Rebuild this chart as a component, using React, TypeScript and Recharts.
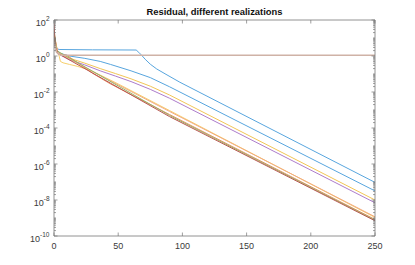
import React from 'react';
import { LineChart, Line, XAxis, YAxis } from 'recharts';

const FONT = '"Liberation Sans", Arial, Helvetica, sans-serif';
const AXIS = '#767676';
const LABEL = '#3a3a3a';

const titleText = 'Residual, different realizations';
const xTicks = [0, 50, 100, 150, 200, 250];
const yDomain = [1e-10, 1e2];

// series (x, residual)
const blue1X = [0, 1, 2, 4, 30, 64, 66, 68, 71, 75, 80, 88, 98, 250];
const blue1Y = [12, 4.5, 2.6, 2.3, 2.2, 2.15, 1.6, 1.15, 0.66, 0.35, 0.19, 0.089, 0.035, 9.5e-8];

const blue2X = [0, 2, 5, 12, 24, 36, 44, 60, 75, 90, 250];
const blue2Y = [16, 2.2, 1.4, 1.0, 0.74, 0.5, 0.34, 0.15, 0.063, 0.0195, 3.2e-8];

const goldX = [0, 3, 5, 12, 24, 36, 48, 60, 75, 90, 250];
const goldY = [8, 1.6, 1.25, 0.76, 0.4, 0.2, 0.105, 0.054, 0.021, 0.0068, 1e-8];

const purpleX = [0, 3, 5, 12, 24, 36, 48, 60, 75, 90, 250];
const purpleY = [10, 1.4, 1.12, 0.63, 0.32, 0.15, 0.076, 0.038, 0.014, 0.0045, 7e-9];

const lightYellowX = [0, 2, 4, 5, 7, 12, 18, 25, 32, 40, 50, 90, 250];
const lightYellowY = [10, 2, 1, 0.5, 0.42, 0.34, 0.27, 0.19, 0.12, 0.063, 0.028, 9.3e-4, 1.07e-9];

const orangeAX = [0, 3, 10, 20, 30, 44, 90, 250];
const orangeAY = [20, 1.3, 1.1, 0.35, 0.11, 0.028, 5.6e-4, 8.3e-10];

const orangeBX = [0, 3, 12, 30, 50, 90, 250];
const orangeBY = [15, 1.6, 0.7, 0.14, 0.025, 8.3e-4, 1.17e-9];

const greenX = [0, 2, 90, 250];
const greenY = [30, 2, 5e-4, 7.6e-10];

const darkRedX = [0, 1, 3, 90, 250];
const darkRedY = [65, 3.2, 1.4, 4.3e-4, 7e-10];

const tanX = [0, 2, 5, 250];
const tanY = [6, 1.6, 1.1, 1.1];

const build = (xs: number[], ys: number[]) => xs.map((x, i) => ({ x, y: ys[i] }));

const series = [
  { name: 'r1', data: build(blue1X, blue1Y), color: '#57a5de', w: 1 },
  { name: 'r2', data: build(blue2X, blue2Y), color: '#57a5de', w: 1 },
  { name: 'r3', data: build(goldX, goldY), color: '#f2c556', w: 1 },
  { name: 'r4', data: build(purpleX, purpleY), color: '#ad7ccb', w: 1 },
  { name: 'r5', data: build(lightYellowX, lightYellowY), color: '#f7d06c', w: 1 },
  { name: 'r6', data: build(orangeAX, orangeAY), color: '#e98b5e', w: 1 },
  { name: 'r7', data: build(orangeBX, orangeBY), color: '#f2aa80', w: 1 },
  { name: 'r8', data: build(greenX, greenY), color: '#98b566', w: 1 },
  { name: 'r9', data: build(darkRedX, darkRedY), color: '#b85650', w: 1 },
  { name: 'r10', data: build(tanX, tanY), color: '#cfb2a6', w: 1.6 },
];

const yTicks: number[] = [];
for (let e = -10; e < 2; e++) {
  for (let m = 1; m < 10; m++) yTicks.push(Number((m * Math.pow(10, e)).toPrecision(6)));
}
yTicks.push(100);

const majorExp = (v: number): number | null => {
  const l = Math.log10(v);
  const r = Math.round(l);
  if (Math.abs(l - r) < 1e-6 && r % 2 === 0) return r;
  return null;
};

const LeftTick = (props: any) => {
  const { x, y, payload } = props;
  const r = majorExp(payload.value);
  const len = r !== null ? 3.5 : 2;
  return (
    <g>
      <line x1={x} x2={x + len} y1={y} y2={y} stroke={AXIS} strokeWidth={0.7} />
      {r !== null && (
        <text x={x - 4.5} y={y + 5.5} textAnchor="end" fontSize={9} fill={LABEL} fontFamily={FONT}>
          10
          <tspan dy={-5} fontSize={6.5}>{String(r)}</tspan>
        </text>
      )}
    </g>
  );
};

const RightTick = (props: any) => {
  const { x, y, payload } = props;
  const r = majorExp(payload.value);
  const len = r !== null ? 3.5 : 2;
  return <line x1={x} x2={x - len} y1={y} y2={y} stroke={AXIS} strokeWidth={0.7} />;
};

const BottomTick = (props: any) => {
  const { x, y, payload } = props;
  return (
    <g>
      <line x1={x} x2={x} y1={y} y2={y - 3.5} stroke={AXIS} strokeWidth={0.7} />
      <text x={x} y={y + 12.5} textAnchor="middle" fontSize={9} fill={LABEL} fontFamily={FONT}>
        {String(payload.value)}
      </text>
    </g>
  );
};

const TopTick = (props: any) => {
  const { x, y } = props;
  return <line x1={x} x2={x} y1={y} y2={y + 3.5} stroke={AXIS} strokeWidth={0.7} />;
};

export default function App() {
  return (
    <div style={{ position: 'absolute', left: 0, top: 0, width: 415, height: 265, background: '#fff' }}>
      <LineChart width={415} height={265} margin={{ top: 19, right: 39, bottom: 28, left: 53 }}>
        <XAxis
          xAxisId="b"
          dataKey="x"
          type="number"
          domain={[0, 250]}
          ticks={xTicks}
          interval={0}
          height={1}
          tickSize={0}
          tickMargin={0}
          tickLine={false}
          tick={<BottomTick />}
          axisLine={{ stroke: AXIS, strokeWidth: 0.8 }}
          allowDataOverflow
        />
        <XAxis
          xAxisId="t"
          orientation="top"
          dataKey="x"
          type="number"
          domain={[0, 250]}
          ticks={xTicks}
          interval={0}
          height={1}
          tickSize={0}
          tickMargin={0}
          tickLine={false}
          tick={<TopTick />}
          axisLine={{ stroke: AXIS, strokeWidth: 0.8 }}
          allowDataOverflow
        />
        <YAxis
          yAxisId="l"
          scale="log"
          type="number"
          domain={yDomain}
          ticks={yTicks}
          interval={0}
          width={1}
          tickSize={0}
          tickMargin={0}
          tickLine={false}
          tick={<LeftTick />}
          axisLine={{ stroke: AXIS, strokeWidth: 0.8 }}
          allowDataOverflow
        />
        <YAxis
          yAxisId="r"
          orientation="right"
          scale="log"
          type="number"
          domain={yDomain}
          ticks={yTicks}
          interval={0}
          width={1}
          tickSize={0}
          tickMargin={0}
          tickLine={false}
          tick={<RightTick />}
          axisLine={{ stroke: AXIS, strokeWidth: 0.8 }}
          allowDataOverflow
        />
        {series.map((s) => (
          <Line
            key={s.name}
            xAxisId="b"
            yAxisId="l"
            data={s.data}
            dataKey="y"
            type="linear"
            stroke={s.color}
            strokeWidth={s.w}
            dot={false}
            activeDot={false}
            isAnimationActive={false}
          />
        ))}
      </LineChart>
      <svg width={415} height={265} style={{ position: 'absolute', left: 0, top: 0, pointerEvents: 'none' }}>
        <text x={214.5} y={15} textAnchor="middle" fontSize={9.4} fontWeight="bold" fill="#111" fontFamily={FONT}>
          {titleText}
        </text>
      </svg>
    </div>
  );
}
